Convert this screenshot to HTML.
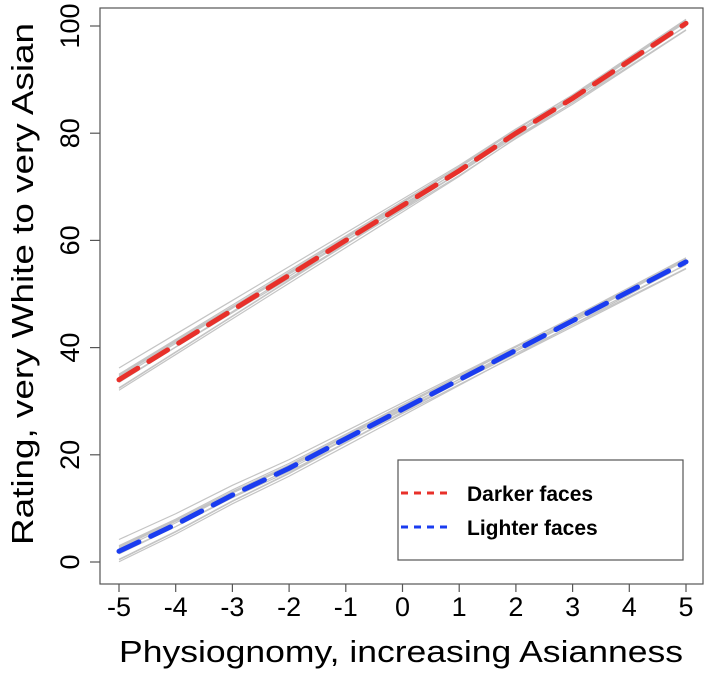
<!DOCTYPE html>
<html><head><meta charset="utf-8"><style>
body{margin:0;background:#fff}
svg text{font-family:"Liberation Sans",Arial,sans-serif}
</style></head><body>
<svg id="chart" width="706" height="672" viewBox="0 0 706 672">
<rect x="100" y="8" width="603" height="576" fill="none" stroke="#555" stroke-width="1.2"/>
<g id="gray"></g>
<g id="series"></g>
<g id="axes"></g>
<text x="33" y="284" font-size="31" text-anchor="middle" textLength="522" lengthAdjust="spacingAndGlyphs" transform="rotate(-90 33 284)">Rating, very White to very Asian</text>
<text x="401" y="662" font-size="31" text-anchor="middle" textLength="564" lengthAdjust="spacingAndGlyphs">Physiognomy, increasing Asianness</text>
<g>
<rect x="398" y="460" width="285" height="100" fill="#fff" stroke="#555" stroke-width="1.2"/>
<line x1="401" y1="493" x2="448" y2="493" stroke="#e8302a" stroke-width="3" stroke-dasharray="7,6"/>
<text x="467" y="501" font-size="21" font-weight="bold">Darker faces</text>
<line x1="401" y1="527" x2="448" y2="527" stroke="#1a3cf0" stroke-width="3" stroke-dasharray="7,6"/>
<text x="467" y="535" font-size="21" font-weight="bold">Lighter faces</text>
</g>
</svg>
<script>
const xs = [-5,-4,-3,-2,-1,0,1,2,3,4,5];
const darker = [34,40.5,47,53.5,60,66.5,73,80,86.5,93.5,100.5];
const lighter = [2,7,12.5,17.5,23,28.5,34,39.5,45,50.5,56];
const xTicks = [-5,-4,-3,-2,-1,0,1,2,3,4,5];
const yTicks = [0,20,40,60,80,100];
const bootInterceptShift = [-1.2,-0.8,-0.5,-0.2,0,0.2,0.5,0.8,1.2,-0.6,0.6];
const bootSlopeShift = [0.15,-0.1,0.2,-0.2,0.1,-0.15,0.05,-0.05,-0.2,0.2,0];
const NS="http://www.w3.org/2000/svg";
const sx = v => 119 + (v + 5) * 56.7;
const sy = v => 562 - v * 5.36;
function mk(tag, attrs, parent){const e=document.createElementNS(NS,tag);for(const k in attrs)e.setAttribute(k,attrs[k]);parent.appendChild(e);return e;}
const gray=document.getElementById('gray'), ser=document.getElementById('series'), axes=document.getElementById('axes');
[darker, lighter].forEach((arr, si) => {
  bootInterceptShift.forEach((b, i) => {
    const pts = xs.map((x, j) => sx(x) + ',' + sy(arr[j] + b + bootSlopeShift[i] * x)).join(' ');
    const p = mk('polyline', {points: pts, fill: 'none', stroke: '#c4c4c4', 'stroke-width': 1.2}, gray);
    
    
  });
});
[[darker,'#e8302a','darker-faces-line'],[lighter,'#1a3cf0','lighter-faces-line']].forEach(([arr,c,n]) => {
  const pts = xs.map((x, j) => sx(x) + ',' + sy(arr[j])).join(' ');
  const p = mk('polyline', {points: pts, fill: 'none', stroke: c, 'stroke-width': 5, 'stroke-dasharray': '22,13', 'stroke-linecap': 'round'}, ser);
  
  
});
xTicks.forEach(t => {
  const l = mk('line', {x1: sx(t), x2: sx(t), y1: 584, y2: 592, stroke: '#555', 'stroke-width': 1.2}, axes);
  
  
  const tx = mk('text', {x: sx(t), y: 616, 'font-size': 27, 'text-anchor': 'middle'}, axes);
  tx.textContent = t;
  
  
});
yTicks.forEach(t => {
  const l = mk('line', {x1: 90, x2: 100, y1: sy(t), y2: sy(t), stroke: '#555', 'stroke-width': 1.2}, axes);
  
  
  const tx = mk('text', {x: 70, y: sy(t), 'font-size': 27, 'text-anchor': 'middle', 'dominant-baseline': 'central', transform: 'rotate(-90 70 ' + sy(t) + ')'}, axes);
  tx.textContent = t;
  
  
});
</script>
</body></html>
